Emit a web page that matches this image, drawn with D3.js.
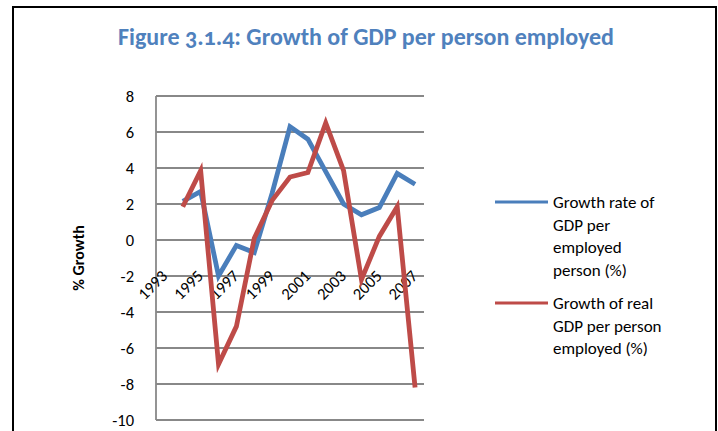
<!DOCTYPE html>
<html lang="en">

<head>
  <meta charset="UTF-8" />
  <title>Growth of GDP per person employed</title>
  <script src="https://cdn.jsdelivr.net/npm/d3@7"></script>
  <style>
    body {
      margin: 0;
      background: #fff;
    }

    text {
      font-family: Carlito, Calibri, Lato, sans-serif;
      fill: #000;
    }
  </style>
</head>

<body>
  <script>
    // chart values
    var years = ["1993", "1994", "1995", "1996", "1997", "1998", "1999", "2000",
      "2001", "2002", "2003", "2004", "2005", "2006", "2007"];
    var growthRate = [null, 2.15, 2.7, -2.0, -0.3, -0.7, 2.6, 6.3,
      5.6, 3.8, 2.0, 1.4, 1.8, 3.7, 3.1];
    var realGrowth = [null, 1.85, 3.85, -6.9, -4.8, 0.1, 2.2, 3.5,
      3.75, 6.5, 3.85, -2.2, 0.2, 1.85, -8.2];
    var yTicks = [-10, -8, -6, -4, -2, 0, 2, 4, 6, 8];
    var xLabels = ["1993", "1995", "1997", "1999", "2001", "2003", "2005", "2007"];
    var seriesNames = [
      ["Growth rate of", "GDP per", "employed", "person (%)"],
      ["Growth of real", "GDP per person", "employed (%)"]
    ];

    var w = 718,
      h = 431,
      plotLeft = 156,
      plotRight = 424,
      plotTop = 96,
      plotBottom = 420;

    var blue = "#4a7ebb",
      red = "#be4b48",
      grid = "#888888";

    var svg = d3.select("body").append("svg")
      .attr("width", w)
      .attr("height", h);

    // outer frame
    svg.append("rect")
      .attr("x", 13)
      .attr("y", 7)
      .attr("width", 703)
      .attr("height", 460)
      .attr("fill", "none")
      .attr("stroke", "#000")
      .attr("stroke-width", 2);

    svg.append("text")
      .attr("x", 366)
      .attr("y", 45)
      .attr("text-anchor", "middle")
      .style("font-size", "24px")
      .style("font-weight", "bold")
      .style("font-variant-numeric", "oldstyle-nums")
      .style("fill", "#4f81bd")
      .text("Figure 3.1.4: Growth of GDP per person employed");

    var xScale = d3.scalePoint()
      .domain(years)
      .range([plotLeft, plotRight])
      .padding(0.5);

    var yScale = d3.scaleLinear()
      .domain([-10, 8])
      .range([plotBottom, plotTop]);

    // gridlines
    svg.selectAll(".grid")
      .data(yTicks)
      .enter()
      .append("line")
      .attr("class", "grid")
      .attr("x1", plotLeft)
      .attr("x2", plotRight)
      .attr("y1", function(d) { return yScale(d) })
      .attr("y2", function(d) { return yScale(d) })
      .attr("stroke", grid)
      .attr("stroke-width", 1.8);

    svg.append("line")
      .attr("x1", plotLeft)
      .attr("x2", plotLeft)
      .attr("y1", plotTop)
      .attr("y2", plotBottom)
      .attr("stroke", grid)
      .attr("stroke-width", 1.8);

    var yAxis = d3.axisLeft()
      .scale(yScale)
      .tickValues(yTicks)
      .tickFormat(function(d) { return String(d) })
      .tickSize(0)
      .tickPadding(22);

    var gy = svg.append("g")
      .attr("transform", "translate(" + plotLeft + ",0)")
      .call(yAxis);
    gy.select(".domain").remove();
    gy.selectAll("text")
      .attr("dy", "0.36em")
      .style("font-size", "16.5px")
      .style("font-family", "Carlito, Calibri, Lato, sans-serif")
      .attr("fill", "#000");

    var xAxis = d3.axisBottom()
      .scale(xScale)
      .tickValues(xLabels)
      .tickSize(0);

    var gx = svg.append("g")
      .attr("transform", "translate(0," + yScale(0) + ")")
      .call(xAxis);
    gx.select(".domain").remove();
    gx.selectAll("text")
      .attr("x", 0)
      .attr("y", 0)
      .attr("dy", null)
      .attr("text-anchor", "end")
      .attr("transform", "translate(3,37) rotate(-45)")
      .style("font-size", "16.5px")
      .style("font-family", "Carlito, Calibri, Lato, sans-serif")
      .attr("fill", "#000");

    svg.append("text")
      .attr("transform", "translate(84,258) rotate(-90)")
      .attr("text-anchor", "middle")
      .style("font-size", "16px")
      .style("font-weight", "bold")
      .text("% Growth");

    var line = d3.line()
      .defined(function(d) { return d[1] != null })
      .x(function(d) { return xScale(d[0]) })
      .y(function(d) { return yScale(d[1]) });

    var series = [growthRate, realGrowth];
    var colors = [blue, red];

    series.forEach(function(values, k) {
      svg.append("path")
        .datum(years.map(function(y, i) { return [y, values[i]] }))
        .attr("d", line)
        .attr("fill", "none")
        .attr("stroke", colors[k])
        .attr("stroke-width", 4.8)
        .attr("stroke-linejoin", "miter");
    });

    // legend
    var legendY = [202, 303];
    seriesNames.forEach(function(lines, k) {
      svg.append("line")
        .attr("x1", 495)
        .attr("x2", 548)
        .attr("y1", legendY[k])
        .attr("y2", legendY[k])
        .attr("stroke", colors[k])
        .attr("stroke-width", 3);

      svg.selectAll(".leg" + k)
        .data(lines)
        .enter()
        .append("text")
        .attr("class", "leg" + k)
        .attr("x", 553)
        .attr("y", function(d, i) { return legendY[k] + 6 + i * 22.6 })
        .style("font-size", "17px")
        .text(function(d) { return d });
    });
  </script>
</body>

</html>
